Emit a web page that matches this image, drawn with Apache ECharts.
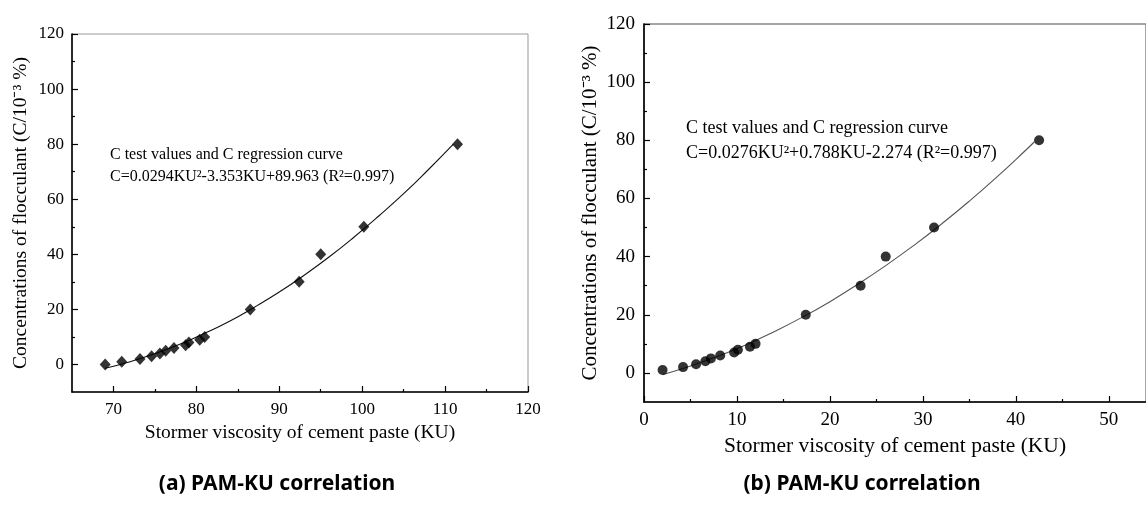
<!DOCTYPE html>
<html>
<head>
<meta charset="utf-8">
<script src="https://cdn.jsdelivr.net/npm/echarts@6/dist/echarts.min.js"></script>
<style>
  html, body { margin: 0; padding: 0; background: #fff; }
  #main { width: 1146px; height: 505px; }
</style>
</head>
<body>
<div id="main"></div>
<script>
// (a) test values and regression curve
var aKU = [69.0, 71.0, 73.2, 74.6, 75.6, 76.3, 77.3, 78.7, 79.1, 80.4, 81.0, 86.5, 92.4, 95.0, 100.2, 111.5];
var aC = [0, 1, 2, 3, 4, 5, 6, 7, 8, 9, 10, 20, 30, 40, 50, 80];
var aCurveKU = [69, 72, 75, 78, 81, 84, 87, 90, 93, 96, 99, 102, 105, 108, 111];
var aCurveC = [-1.4, 1.0, 3.9, 7.3, 11.3, 15.7, 20.8, 26.3, 32.4, 39.0, 46.2, 53.9, 62.0, 70.8, 80.0];

// (b) test values and regression curve
var bKU = [2.0, 4.2, 5.6, 6.6, 7.2, 8.2, 9.7, 10.1, 11.4, 12.0, 17.4, 23.3, 26.0, 31.2, 42.5];
var bC = [1, 2, 3, 4, 5, 6, 7, 8, 9, 10, 20, 30, 40, 50, 80];
var bCurveKU = [2, 5, 8, 11, 14, 17, 20, 23, 26, 29, 32, 35, 38, 41, 42];
var bCurveC = [-0.6, 2.4, 5.8, 9.7, 14.2, 19.1, 24.5, 30.5, 36.9, 43.8, 51.2, 59.1, 67.5, 76.4, 79.5];

// tick values
var yTicks = [0, 20, 40, 60, 80, 100, 120];
var yMinor = [10, 30, 50, 70, 90, 110];
var aXTicks = [70, 80, 90, 100, 110, 120];
var aXMinor = [75, 85, 95, 105, 115];
var bXTicks = [0, 10, 20, 30, 40, 50];
var bXMinor = [5, 15, 25, 35, 45];

var yName = 'Concentrations of flocculant (C/10\u207B\u00B3 %)';
var xName = 'Stormer viscosity of cement paste (KU)';
var serif = '"Liberation Serif", "Times New Roman", serif';

function zip(xs, ys) {
    var out = [];
    for (var i = 0; i < xs.length; i++) out.push([xs[i], ys[i]]);
    return out;
}

function mainX(grid, min, max, ticks, fs, gap, nfs) {
    return {
        gridIndex: grid, type: 'value', min: min, max: max, position: 'bottom',
        name: xName, nameLocation: 'middle', nameGap: gap,
        nameTextStyle: { fontFamily: serif, fontSize: nfs, color: '#000' },
        axisLine: { onZero: false, lineStyle: { color: '#000', width: 1.6 } },
        axisTick: { inside: true, length: 6, customValues: ticks, lineStyle: { color: '#000', width: 1.2 } },
        axisLabel: { customValues: ticks, fontFamily: serif, fontSize: fs, color: '#000', margin: 9 },
        splitLine: { show: false }
    };
}
function minorX(grid, min, max, ticks) {
    return {
        gridIndex: grid, type: 'value', min: min, max: max, position: 'bottom',
        axisLine: { show: false, onZero: false },
        axisTick: { inside: true, length: 3, customValues: ticks, lineStyle: { color: '#000', width: 1.2 } },
        axisLabel: { show: false },
        splitLine: { show: false }
    };
}
function mainY(grid, fs, gap, nfs, margin) {
    return {
        gridIndex: grid, type: 'value', min: -10, max: 120, position: 'left',
        name: yName, nameLocation: 'middle', nameGap: gap,
        nameTextStyle: { fontFamily: serif, fontSize: nfs, color: '#000' },
        axisLine: { onZero: false, lineStyle: { color: '#000', width: 1.6 } },
        axisTick: { inside: true, length: 6, customValues: yTicks, lineStyle: { color: '#000', width: 1.2 } },
        axisLabel: { customValues: yTicks, fontFamily: serif, fontSize: fs, color: '#000', margin: margin },
        splitLine: { show: false }
    };
}
function minorY(grid) {
    return {
        gridIndex: grid, type: 'value', min: -10, max: 120, position: 'left',
        axisLine: { show: false, onZero: false },
        axisTick: { inside: true, length: 3, customValues: yMinor, lineStyle: { color: '#000', width: 1.2 } },
        axisLabel: { show: false },
        splitLine: { show: false }
    };
}

var chart = echarts.init(document.getElementById('main'));
chart.setOption({
    animation: false,
    backgroundColor: '#fff',
    grid: [
        { left: 72, top: 34, width: 456, height: 358, show: true, borderColor: '#999', borderWidth: 1 },
        { left: 644, top: 24, width: 504.5, height: 378, show: true, borderColor: '#888', borderWidth: 1.5 }
    ],
    xAxis: [
        mainX(0, 65, 120, aXTicks, 17, 30, 19.5),
        minorX(0, 65, 120, aXMinor),
        mainX(1, 0, 54, bXTicks, 19, 31, 21.5),
        minorX(1, 0, 54, bXMinor)
    ],
    yAxis: [
        mainY(0, 17, 41, 19.5, 8),
        minorY(0),
        mainY(1, 19, 43, 21, 9),
        minorY(1)
    ],
    series: [
        {
            type: 'line', xAxisIndex: 0, yAxisIndex: 0, data: zip(aCurveKU, aCurveC),
            smooth: true, showSymbol: false, lineStyle: { color: '#111', width: 1.1 }, z: 2
        },
        {
            type: 'scatter', xAxisIndex: 0, yAxisIndex: 0, data: zip(aKU, aC),
            symbol: 'diamond', symbolSize: [11, 12], itemStyle: { color: '#000' }, z: 3
        },
        {
            type: 'line', xAxisIndex: 2, yAxisIndex: 2, data: zip(bCurveKU, bCurveC),
            smooth: true, showSymbol: false, lineStyle: { color: '#555', width: 1.1 }, z: 2
        },
        {
            type: 'scatter', xAxisIndex: 2, yAxisIndex: 2, data: zip(bKU, bC),
            symbol: 'circle', symbolSize: 10, itemStyle: { color: '#000' }, z: 3
        }
    ],
    graphic: [
        {
            type: 'text', left: 110, top: 144,
            style: {
                text: 'C test values and C regression curve\nC=0.0294KU\u00B2-3.353KU+89.963 (R\u00B2=0.997)',
                font: '16px ' + serif, lineHeight: 22, fill: '#000'
            }
        },
        {
            type: 'text', left: 686, top: 116,
            style: {
                text: 'C test values and C regression curve\nC=0.0276KU\u00B2+0.788KU-2.274 (R\u00B2=0.997)',
                font: '18px ' + serif, lineHeight: 25, fill: '#000'
            }
        },
        {
            type: 'text', x: 277, y: 484,
            style: { text: '(a) PAM-KU correlation', font: 'bold 21px "Noto Sans", sans-serif', fill: '#000', textAlign: 'center', textVerticalAlign: 'middle' }
        },
        {
            type: 'text', x: 862, y: 484,
            style: { text: '(b) PAM-KU correlation', font: 'bold 21px "Noto Sans", sans-serif', fill: '#000', textAlign: 'center', textVerticalAlign: 'middle' }
        }
    ]
});
</script>
</body>
</html>
